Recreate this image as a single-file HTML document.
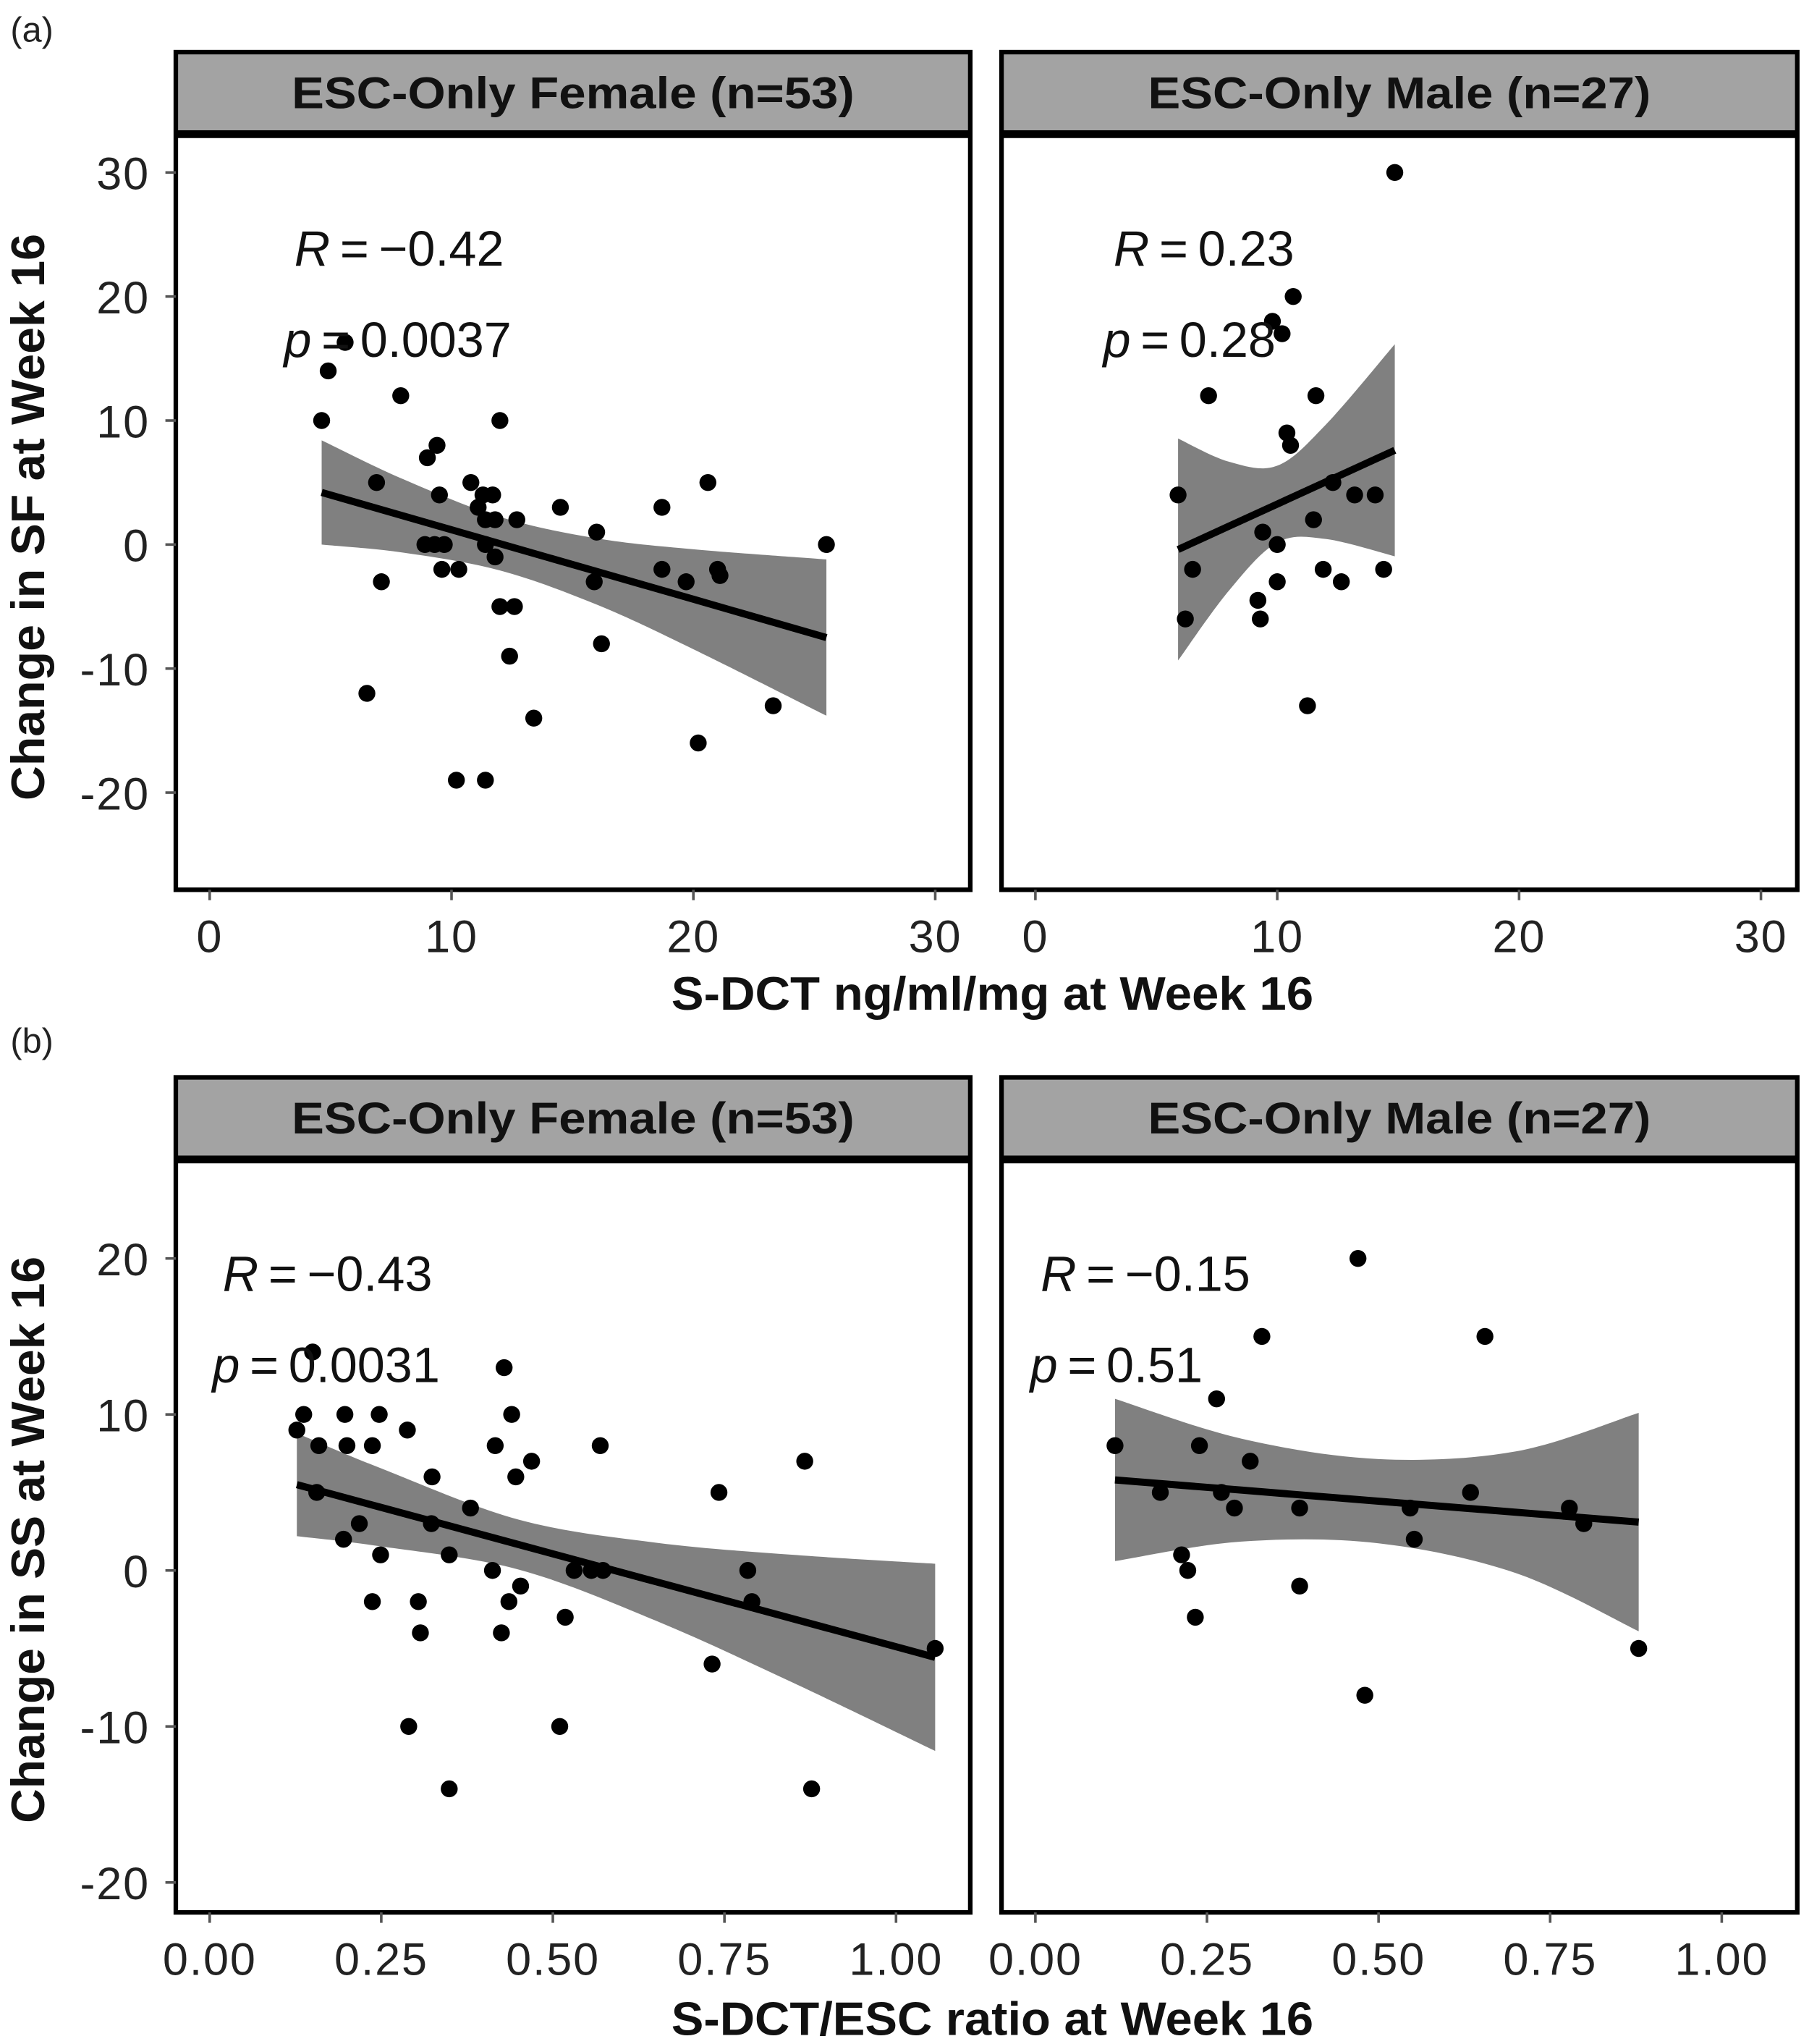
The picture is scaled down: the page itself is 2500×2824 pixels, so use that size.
<!DOCTYPE html>
<html><head><meta charset="utf-8">
<style>
html,body{margin:0;padding:0;background:#fff;}
svg{display:block;font-family:"Liberation Sans",Arial,sans-serif;}
</style></head>
<body>
<svg id="chart" width="2500" height="2824" viewBox="0 0 1389 1569" xmlns="http://www.w3.org/2000/svg">
</svg>
<script>
// ---------- Data ----------
const aFemaleX = [4.63,4.9,5.6,6.9,7.1,6.5,7.9,9.0,9.4,8.9,9.3,9.5,9.6,9.7,10.2,10.3,10.8,11.1,11.3,11.4,11.4,11.4,11.7,11.8,12.0,11.8,12.0,12.4,12.6,12.7,13.4,14.5,16.0,15.9,16.2,18.7,18.7,19.7,20.2,20.6,21.0,21.1,23.3,25.5];
const aFemaleY = [10,14,16.3,5,-3,-12,12,7,8,0,0,4,-2,0,-19,-2,5,3,4,2,-19,0,4,2,10,-1,-5,-9,-5,2,-14,3,1,-3,-8,-2,3,-3,-16,5,-2,-2.5,-13,0];
const aFemaleBandX = [4.63,8,12,16,20,25.5];
const aFemaleFit = [4.2,2.31,0.07,-2.17,-4.41,-7.5];
const aFemaleHi = [8.4,5.27,2.23,0.5,-0.38,-1.2];
const aFemaleLo = [0,-0.65,-2.09,-4.84,-8.44,-13.8];
const aMaleX = [14.86,10.66,9.8,10.2,7.16,11.6,10.4,10.55,5.9,12.3,13.2,14.05,11.5,9.4,10.0,6.5,11.9,12.65,14.4,10.0,9.2,9.3,6.2,11.25];
const aMaleY = [30,20,18,17,12,12,9,8,4,5,4,4,2,1,0,-2,-2,-3,-2,-3,-4.5,-6,-6,-13];
const aMaleBandX = [5.9,8,10,12,14.86];
const aMaleFit = [-0.4,1.48,3.26,5.05,7.6];
const aMaleHi = [8.55,6.68,6.36,9.65,16.15];
const aMaleLo = [-9.35,-3.72,0.16,0.45,-0.95];
const bFemaleX = [0.127,0.137,0.15,0.156,0.159,0.195,0.197,0.2,0.218,0.237,0.237,0.247,0.249,0.288,0.29,0.304,0.307,0.324,0.323,0.349,0.349,0.38,0.412,0.416,0.425,0.429,0.436,0.44,0.446,0.453,0.469,0.51,0.518,0.531,0.556,0.569,0.573,0.732,0.742,0.784,0.79,0.867,0.877,1.057];
const bFemaleY = [9,10,14,5,8,2,10,8,3,8,-2,10,1,9,-10,-2,-4,6,3,1,-14,4,0,8,-4,13,-2,10,6,-1,7,-10,-3,0,0,8,0,-6,5,0,-2,7,-14,-5];
const bFemaleBandX = [0.127,0.25,0.45,0.65,0.85,1.057];
const bFemaleFit = [5.5,4.04,1.66,-0.72,-3.1,-5.57];
const bFemaleHi = [8.8,6.54,3.26,1.78,1.0,0.43];
const bFemaleLo = [2.2,1.54,0.06,-3.22,-7.2,-11.57];
const bMaleX = [0.116,0.182,0.213,0.222,0.233,0.239,0.264,0.271,0.29,0.313,0.33,0.385,0.385,0.47,0.48,0.546,0.552,0.634,0.655,0.778,0.799,0.879];
const bMaleY = [8,5,1,0,-3,8,11,5,4,7,15,4,-1,20,-8,4,2,5,15,4,3,-5];
const bMaleBandX = [0.116,0.3,0.5,0.7,0.879];
const bMaleFit = [5.8,5.15,4.44,3.73,3.1];
const bMaleHi = [11.0,8.45,7.14,7.63,10.1];
const bMaleLo = [0.6,1.85,1.74,-0.17,-3.9];
const aXTicks = [0,10,20,30];
const aYTicks = [30,20,10,0,-10,-20];
const bXTicks = [0,0.25,0.5,0.75,1.0];
const bXTickLabels = ["0.00","0.25","0.50","0.75","1.00"];
const bYTicks = [20,10,0,-10,-20];

// ---------- Drawing ----------
const NS = "http://www.w3.org/2000/svg";
const svg = document.getElementById("chart");
function mk(tag, attrs, parent){
  const e = document.createElementNS(NS, tag);
  for (const k in attrs) e.setAttribute(k, attrs[k]);
  (parent||svg).appendChild(e);
  return e;
}
function txt(s, attrs, parent){ const e = mk("text", attrs, parent); e.textContent = s; return e; }
// smooth curve through points (Catmull-Rom -> cubic Bezier)
function smooth(pts, start){
  let d = start ? "M" + pts[0][0] + "," + pts[0][1] : "L" + pts[0][0] + "," + pts[0][1];
  for (let i = 0; i < pts.length-1; i++){
    const p0 = pts[Math.max(0,i-1)], p1 = pts[i], p2 = pts[i+1], p3 = pts[Math.min(pts.length-1,i+2)];
    const c1x = p1[0] + (p2[0]-p0[0])/6, c1y = p1[1] + (p2[1]-p0[1])/6;
    const c2x = p2[0] - (p3[0]-p1[0])/6, c2y = p2[1] - (p3[1]-p1[1])/6;
    d += "C" + c1x + "," + c1y + " " + c2x + "," + c2y + " " + p2[0] + "," + p2[1];
  }
  return d;
}

function panel(cfg){
  const g = mk("g", {});
  
  
  const sx = v => cfg.x0 + v * cfg.xs;
  const sy = v => cfg.y0 - v * cfg.ys;
  const strip = mk("rect", {x:cfg.L, y:cfg.T, width:cfg.R-cfg.L, height:cfg.S-cfg.T, fill:"#a3a3a3"}, g);
  
  
  const st = txt(cfg.title, {x:(cfg.L+cfg.R)/2, y:cfg.T+43, "text-anchor":"middle", "font-size":34, "font-weight":"bold", fill:"#111", textLength:cfg.tl, lengthAdjust:"spacingAndGlyphs"}, g);
  
  
  const hiPts = cfg.bx.map((x,i)=>[sx(x), sy(cfg.hi[i])]);
  const loPts = cfg.bx.map((x,i)=>[sx(x), sy(cfg.lo[i])]).reverse();
  const band = mk("path", {d:smooth(hiPts,true) + smooth(loPts,false) + "Z", fill:"#808080"}, g);
  
  
  let ld = "";
  cfg.bx.forEach((x,i)=>{ ld += (i?"L":"M") + sx(x) + "," + sy(cfg.fit[i]); });
  const line = mk("path", {d:ld, fill:"none", stroke:"#000", "stroke-width":5.5}, g);
  
  
  cfg.px.forEach((x,i)=>{
    const c = mk("circle", {cx:sx(x), cy:sy(cfg.py[i]), r:6.5, fill:"#000"}, g);
    
    
  });
  const ra = txt("", {x:cfg.ax, y:cfg.ay, "font-size":38, fill:"#111"}, g);
  
  
  ra.innerHTML = '<tspan font-style="italic">R</tspan>\u2009=\u2009' + cfg.rtext;
  const pa = txt("", {x:cfg.ax - 8, y:cfg.ay + 70, "font-size":38, fill:"#111"}, g);
  
  
  pa.innerHTML = '<tspan font-style="italic">p</tspan>\u2009=\u2009' + cfg.ptext;
  mk("rect", {x:cfg.L, y:cfg.T, width:cfg.R-cfg.L, height:cfg.B-cfg.T, fill:"none", stroke:"#000", "stroke-width":3.5}, g);
  mk("line", {x1:cfg.L, x2:cfg.R, y1:cfg.S, y2:cfg.S, stroke:"#000", "stroke-width":6}, g);
  cfg.xt.forEach((v,i)=>{
    mk("line", {x1:sx(v), x2:sx(v), y1:cfg.B, y2:cfg.B+8, stroke:"#555", "stroke-width":2}, g);
    const t = txt(cfg.xtl ? cfg.xtl[i] : String(v), {x:sx(v), y:cfg.B+48, "text-anchor":"middle", "font-size":35, "letter-spacing":1, fill:"#222"}, g);
    
    
  });
  if (cfg.yt) cfg.yt.forEach(v=>{
    mk("line", {x1:cfg.L-8, x2:cfg.L, y1:sy(v), y2:sy(v), stroke:"#555", "stroke-width":2}, g);
    const t = txt(String(v), {x:cfg.L-20, y:sy(v)+13, "text-anchor":"end", "font-size":35, "letter-spacing":1, fill:"#222"}, g);
    
    
  });
}

panel({name:"panel-a-female", title:"ESC-Only Female (n=53)", tl:432, L:135, R:745, T:40, S:103, B:683, x0:161, xs:18.57, y0:418, ys:9.52,
  px:aFemaleX, py:aFemaleY, bx:aFemaleBandX, fit:aFemaleFit, hi:aFemaleHi, lo:aFemaleLo, ax:226, ay:204, rtext:"\u22120.42", ptext:"0.0037", xt:aXTicks, yt:aYTicks});
panel({name:"panel-a-male", title:"ESC-Only Male (n=27)", tl:386, L:769, R:1380, T:40, S:103, B:683, x0:795, xs:18.57, y0:418, ys:9.52,
  px:aMaleX, py:aMaleY, bx:aMaleBandX, fit:aMaleFit, hi:aMaleHi, lo:aMaleLo, ax:855, ay:204, rtext:"0.23", ptext:"0.28", xt:aXTicks});
panel({name:"panel-b-female", title:"ESC-Only Female (n=53)", tl:432, L:135, R:745, T:827, S:890, B:1468, x0:161, xs:527, y0:1205.5, ys:11.975,
  px:bFemaleX, py:bFemaleY, bx:bFemaleBandX, fit:bFemaleFit, hi:bFemaleHi, lo:bFemaleLo, ax:171, ay:991, rtext:"\u22120.43", ptext:"0.0031", xt:bXTicks, xtl:bXTickLabels, yt:bYTicks});
panel({name:"panel-b-male", title:"ESC-Only Male (n=27)", tl:386, L:769, R:1380, T:827, S:890, B:1468, x0:795, xs:527, y0:1205.5, ys:11.975,
  px:bMaleX, py:bMaleY, bx:bMaleBandX, fit:bMaleFit, hi:bMaleHi, lo:bMaleLo, ax:799, ay:991, rtext:"\u22120.15", ptext:"0.51", xt:bXTicks, xtl:bXTickLabels});

function label(s, attrs, name){ const t = txt(s, attrs);   return t; }
label("(a)", {x:8, y:32, "font-size":27, fill:"#222"}, "panel-a-label");
label("(b)", {x:8, y:808, "font-size":27, fill:"#222"}, "panel-b-label");
label("S-DCT ng/ml/mg at Week 16", {x:762, y:775, "text-anchor":"middle", "font-size":36, "font-weight":"bold", fill:"#111", textLength:493, lengthAdjust:"spacingAndGlyphs"}, "x-axis-title-a");
label("S-DCT/ESC ratio at Week 16", {x:762, y:1562, "text-anchor":"middle", "font-size":36, "font-weight":"bold", fill:"#111", textLength:493, lengthAdjust:"spacingAndGlyphs"}, "x-axis-title-b");
label("Change in SF at Week 16", {x:0, y:0, "text-anchor":"middle", "font-size":36, "font-weight":"bold", fill:"#111", textLength:435, lengthAdjust:"spacingAndGlyphs", transform:"translate(34,397) rotate(-90)"}, "y-axis-title-a");
label("Change in SS at Week 16", {x:0, y:0, "text-anchor":"middle", "font-size":36, "font-weight":"bold", fill:"#111", textLength:435, lengthAdjust:"spacingAndGlyphs", transform:"translate(34,1182) rotate(-90)"}, "y-axis-title-b");
</script>
</body></html>
